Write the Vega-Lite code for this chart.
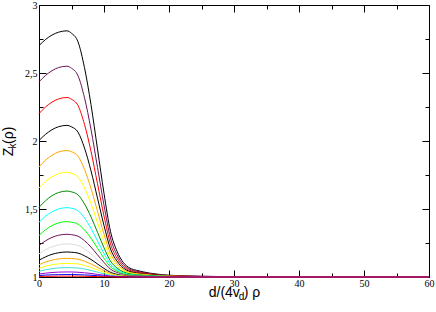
{
"$schema": "https://vega.github.io/schema/vega-lite/v6.json",
"width": 390, "height": 272,
"autosize": "none",
"padding": {"left": 39, "top": 5, "right": 7, "bottom": 35},
"background": "white",
"config": {"view": {"stroke": null}, "axis": {"grid": false, "domainColor": "black", "tickColor": "black", "labelColor": "black", "titleColor": "black", "domainWidth": 1, "tickWidth": 1, "labelFlush": false, "labelOverlap": false}},
"data": {"values": [
{"x":0,"c01":2.701,"c02":2.435,"c03":2.201,"c04":2.004,"c05":1.809,"c06":1.655,"c07":1.512,"c08":1.403,"c09":1.305,"c10":1.232,"c11":1.170,"c12":1.123,"c13":1.090,"c14":1.064,"c15":1.042,"c16":1.022,"c17":1.011,"c18":1.004},
{"x":1,"c01":2.746,"c02":2.482,"c03":2.250,"c04":2.049,"c05":1.859,"c06":1.702,"c07":1.561,"c08":1.447,"c09":1.347,"c10":1.266,"c11":1.200,"c12":1.148,"c13":1.110,"c14":1.079,"c15":1.053,"c16":1.028,"c17":1.014,"c18":1.005},
{"x":2,"c01":2.779,"c02":2.517,"c03":2.286,"c04":2.083,"c05":1.895,"c06":1.737,"c07":1.598,"c08":1.479,"c09":1.378,"c10":1.291,"c11":1.222,"c12":1.167,"c13":1.124,"c14":1.090,"c15":1.061,"c16":1.033,"c17":1.016,"c18":1.005},
{"x":3,"c01":2.800,"c02":2.540,"c03":2.309,"c04":2.105,"c05":1.919,"c06":1.760,"c07":1.621,"c08":1.500,"c09":1.398,"c10":1.307,"c11":1.236,"c12":1.178,"c13":1.133,"c14":1.097,"c15":1.067,"c16":1.036,"c17":1.017,"c18":1.006},
{"x":4.3,"c01":2.810,"c02":2.550,"c03":2.320,"c04":2.115,"c05":1.930,"c06":1.770,"c07":1.632,"c08":1.510,"c09":1.407,"c10":1.314,"c11":1.243,"c12":1.184,"c13":1.137,"c14":1.100,"c15":1.069,"c16":1.037,"c17":1.018,"c18":1.006},
{"x":5,"c01":2.792,"c02":2.535,"c03":2.307,"c04":2.104,"c05":1.921,"c06":1.762,"c07":1.626,"c08":1.505,"c09":1.403,"c10":1.311,"c11":1.241,"c12":1.182,"c13":1.136,"c14":1.099,"c15":1.068,"c16":1.037,"c17":1.018,"c18":1.006},
{"x":6,"c01":2.729,"c02":2.480,"c03":2.261,"c04":2.065,"c05":1.888,"c06":1.735,"c07":1.604,"c08":1.487,"c09":1.389,"c10":1.300,"c11":1.232,"c12":1.176,"c13":1.131,"c14":1.096,"c15":1.066,"c16":1.035,"c17":1.017,"c18":1.006},
{"x":7,"c01":2.539,"c02":2.318,"c03":2.122,"c04":1.948,"c05":1.791,"c06":1.655,"c07":1.537,"c08":1.434,"c09":1.346,"c10":1.267,"c11":1.207,"c12":1.156,"c13":1.116,"c14":1.085,"c15":1.059,"c16":1.031,"c17":1.015,"c18":1.005},
{"x":8,"c01":2.267,"c02":2.085,"c03":1.924,"c04":1.781,"c05":1.651,"c06":1.539,"c07":1.442,"c08":1.357,"c09":1.285,"c10":1.220,"c11":1.170,"c12":1.129,"c13":1.096,"c14":1.070,"c15":1.048,"c16":1.026,"c17":1.013,"c18":1.004},
{"x":9,"c01":1.941,"c02":1.806,"c03":1.686,"c04":1.580,"c05":1.484,"c06":1.400,"c07":1.329,"c08":1.265,"c09":1.212,"c10":1.163,"c11":1.126,"c12":1.096,"c13":1.071,"c14":1.052,"c15":1.036,"c16":1.019,"c17":1.009,"c18":1.003},
{"x":10,"c01":1.615,"c02":1.527,"c03":1.449,"c04":1.379,"c05":1.316,"c06":1.262,"c07":1.215,"c08":1.173,"c09":1.138,"c10":1.107,"c11":1.083,"c12":1.063,"c13":1.047,"c14":1.034,"c15":1.023,"c16":1.013,"c17":1.006,"c18":1.002},
{"x":11,"c01":1.335,"c02":1.287,"c03":1.244,"c04":1.206,"c05":1.172,"c06":1.142,"c07":1.117,"c08":1.094,"c09":1.075,"c10":1.058,"c11":1.045,"c12":1.034,"c13":1.025,"c14":1.019,"c15":1.013,"c16":1.007,"c17":1.003,"c18":1.001},
{"x":12,"c01":1.190,"c02":1.163,"c03":1.139,"c04":1.117,"c05":1.098,"c06":1.081,"c07":1.066,"c08":1.054,"c09":1.043,"c10":1.033,"c11":1.026,"c12":1.019,"c13":1.014,"c14":1.011,"c15":1.007,"c16":1.004,"c17":1.002,"c18":1.000},
{"x":13,"c01":1.105,"c02":1.090,"c03":1.077,"c04":1.065,"c05":1.054,"c06":1.045,"c07":1.037,"c08":1.030,"c09":1.024,"c10":1.018,"c11":1.014,"c12":1.011,"c13":1.008,"c14":1.006,"c15":1.004,"c16":1.002,"c17":1.001,"c18":1.000},
{"x":14,"c01":1.065,"c02":1.056,"c03":1.048,"c04":1.040,"c05":1.033,"c06":1.028,"c07":1.023,"c08":1.018,"c09":1.015,"c10":1.011,"c11":1.009,"c12":1.007,"c13":1.005,"c14":1.004,"c15":1.002,"c16":1.001,"c17":1.000,"c18":1.000},
{"x":15,"c01":1.049,"c02":1.042,"c03":1.036,"c04":1.030,"c05":1.025,"c06":1.021,"c07":1.017,"c08":1.014,"c09":1.011,"c10":1.008,"c11":1.007,"c12":1.005,"c13":1.004,"c14":1.003,"c15":1.002,"c16":1.001,"c17":1.000,"c18":1.000},
{"x":16,"c01":1.038,"c02":1.033,"c03":1.028,"c04":1.023,"c05":1.020,"c06":1.016,"c07":1.013,"c08":1.011,"c09":1.009,"c10":1.007,"c11":1.005,"c12":1.004,"c13":1.003,"c14":1.002,"c15":1.001,"c16":1.000,"c17":1.000,"c18":1.000},
{"x":18,"c01":1.022,"c02":1.019,"c03":1.016,"c04":1.013,"c05":1.011,"c06":1.009,"c07":1.008,"c08":1.006,"c09":1.005,"c10":1.004,"c11":1.003,"c12":1.002,"c13":1.002,"c14":1.001,"c15":1.001,"c16":1.000,"c17":1.000,"c18":1.000},
{"x":20,"c01":1.013,"c02":1.011,"c03":1.009,"c04":1.008,"c05":1.007,"c06":1.005,"c07":1.004,"c08":1.004,"c09":1.003,"c10":1.002,"c11":1.002,"c12":1.001,"c13":1.001,"c14":1.001,"c15":1.000,"c16":1.000,"c17":1.000,"c18":1.000},
{"x":25,"c01":1.005,"c02":1.005,"c03":1.004,"c04":1.003,"c05":1.003,"c06":1.002,"c07":1.002,"c08":1.002,"c09":1.001,"c10":1.001,"c11":1.001,"c12":1.000,"c13":1.000,"c14":1.000,"c15":1.000,"c16":1.000,"c17":1.000,"c18":1.000},
{"x":30,"c01":1.002,"c02":1.002,"c03":1.002,"c04":1.001,"c05":1.001,"c06":1.001,"c07":1.001,"c08":1.001,"c09":1.000,"c10":1.000,"c11":1.000,"c12":1.000,"c13":1.000,"c14":1.000,"c15":1.000,"c16":1.000,"c17":1.000,"c18":1.000},
{"x":40,"c01":1.001,"c02":1.001,"c03":1.001,"c04":1.000,"c05":1.000,"c06":1.000,"c07":1.000,"c08":1.000,"c09":1.000,"c10":1.000,"c11":1.000,"c12":1.000,"c13":1.000,"c14":1.000,"c15":1.000,"c16":1.000,"c17":1.000,"c18":1.000},
{"x":60,"c01":1.000,"c02":1.000,"c03":1.000,"c04":1.000,"c05":1.000,"c06":1.000,"c07":1.000,"c08":1.000,"c09":1.000,"c10":1.000,"c11":1.000,"c12":1.000,"c13":1.000,"c14":1.000,"c15":1.000,"c16":1.000,"c17":1.000,"c18":1.000}
]},
"transform": [{"fold": ["c01","c02","c03","c04","c05","c06","c07","c08","c09","c10","c11","c12","c13","c14","c15","c16","c17","c18"], "as": ["key","v"]}],
"resolve": {"axis": {"x": "independent", "y": "independent"}},
"layer": [
{"mark": {"type": "line", "interpolate": "monotone", "strokeWidth": 1},
 "encoding": {
  "x": {"field": "x", "type": "quantitative", "scale": {"domain": [0,60], "nice": false, "zero": false},
    "axis": {"orient": "bottom", "values": [0,5,10,15,20,25,30,35,40,45,50,55,60],
      "tickSize": {"condition": {"test": "datum.value % 10 === 0", "value": -7}, "value": -4},
      "labelExpr": "datum.value % 10 === 0 ? datum.label : ''",
      "labelFont": "Liberation Serif", "labelFontSize": 10, "labelPadding": 8,
      "title": "d/(4v  ) ρ", "titleFont": "Liberation Sans", "titleFontSize": 14, "titleFontWeight": "normal",
      "titleBaseline": "alphabetic", "titleY": 19.5}},
  "y": {"field": "v", "type": "quantitative", "scale": {"domain": [1,3], "nice": false, "zero": false},
    "axis": {"orient": "left", "values": [1,1.25,1.5,1.75,2,2.25,2.5,2.75,3],
      "tickSize": {"condition": {"test": "abs(datum.value*2 - round(datum.value*2)) < 0.001", "value": -7}, "value": -4},
      "labelExpr": "abs(datum.value*2 - round(datum.value*2)) < 0.001 ? replace(format(datum.value, '~g'), '.', ',') : ''",
      "labelFont": "Liberation Serif", "labelFontSize": 10, "labelPadding": 9,
      "title": "Z  (ρ)", "titleFont": "Liberation Sans", "titleFontSize": 14, "titleFontWeight": "normal",
      "titleBaseline": "alphabetic", "titleX": -27, "titleY": 136}},
  "color": {"field": "key", "type": "nominal", "legend": null,
    "scale": {"domain": ["c01","c02","c03","c04","c05","c06","c07","c08","c09","c10","c11","c12","c13","c14","c15","c16","c17","c18"],
      "range": ["#000000","#70115a","#ff0000","#000000","#ffa500","#ffff00","#008b00","#00ffff","#00ff00","#70115a","#dcdcdc","#000000","#ffa500","#ffff00","#40e0d0","#9400d3","#0000ff","#ff0000"]}}
 }},
{"mark": {"type": "line", "strokeOpacity": 0},
 "encoding": {
  "x": {"field": "x", "type": "quantitative", "scale": {"domain": [0,60], "nice": false, "zero": false},
    "axis": {"orient": "top", "values": [0,5,10,15,20,25,30,35,40,45,50,55,60],
      "tickSize": {"condition": {"test": "datum.value % 10 === 0", "value": -7}, "value": -4},
      "labels": false, "title": null}},
  "y": {"field": "v", "type": "quantitative", "scale": {"domain": [1,3], "nice": false, "zero": false},
    "axis": {"orient": "right", "values": [1,1.25,1.5,1.75,2,2.25,2.5,2.75,3],
      "tickSize": {"condition": {"test": "abs(datum.value*2 - round(datum.value*2)) < 0.001", "value": -7}, "value": -4},
      "labels": false, "title": null}}
 }},
{"mark": {"type": "line", "strokeOpacity": 0},
 "encoding": {
  "x": {"field": "x", "type": "quantitative", "scale": {"domain": [0,60], "nice": false, "zero": false},
    "axis": {"orient": "bottom", "domain": false, "ticks": false, "labels": false,
      "title": "d", "titleFont": "Liberation Sans", "titleFontSize": 10, "titleFontWeight": "normal",
      "titleBaseline": "alphabetic", "titleY": 22.5, "titleX": 202}},
  "y": {"field": "v", "type": "quantitative", "scale": {"domain": [1,3], "nice": false, "zero": false},
    "axis": {"orient": "left", "domain": false, "ticks": false, "labels": false,
      "title": "k", "titleFont": "Liberation Sans", "titleFontSize": 10, "titleFontWeight": "normal",
      "titleBaseline": "alphabetic", "titleX": -24, "titleY": 140.5}}
 }}
]
}
